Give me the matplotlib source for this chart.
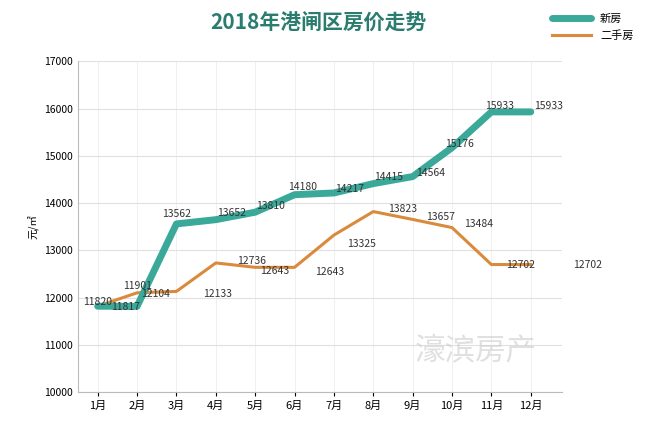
import matplotlib
matplotlib.use("Agg")
import matplotlib.pyplot as plt
from matplotlib import font_manager

names = {f.name for f in font_manager.fontManager.ttflist}
cjk = [n for n in ("Noto Sans CJK SC", "Noto Sans CJK JP", "Noto Sans CJK TC", "Noto Sans CJK KR") if n in names]
plt.rcParams["font.family"] = cjk + ["DejaVu Sans"]

months = ["1月", "2月", "3月", "4月", "5月", "6月", "7月", "8月", "9月", "10月", "11月", "12月"]
new_house = [11820, 11817, 13562, 13652, 13810, 14180, 14217, 14415, 14564, 15176, 15933, 15933]
second_hand = [11820, 12104, 12133, 12736, 12643, 12643, 13325, 13823, 13657, 13484, 12702, 12702]
new_labels = ["11820", "11817", "13562", "13652", "13810", "14180", "14217", "14415", "14564", "15176", "15933", "15933"]
old_labels = ["11901", "12104", "12133", "12736", "12643", "12643", "13325", "13823", "13657", "13484", "12702", "12702"]

fig = plt.figure(figsize=(6.5, 4.24), dpi=100)
ax = fig.add_axes([0.12, 0.075, 0.745, 0.78])
x = list(range(len(months)))
l1, = ax.plot(x, new_house, color="#3aa99a", lw=5, solid_joinstyle="round",
              solid_capstyle="round", label="新房", zorder=3)
l2, = ax.plot(x, second_hand, color="#d98a3c", lw=2.2, label="二手房", zorder=2)

kw = dict(fontsize=7.5, ha="center", va="center", color="#333333", zorder=5, clip_on=False)
# label offsets (x in months, y in value units) from each point
new_off = [(0, 80), (-0.3, -20), (0, 220), (0.4, 150), (0.4, 140), (0.2, 160), (0.4, 80),
           (0.4, 135), (0.45, 85), (0.2, 75), (0.2, 120), (0.45, 120)]
old_off = [(1.0, 430), (0.47, -20), (1.05, -50), (0.9, 40), (0.5, -70), (0.9, -90),
           (0.7, -195), (0.75, 57), (0.7, 43), (0.67, 86), (0.74, 0), (1.44, 0)]
for i, t in enumerate(new_labels):
    dx, dy = new_off[i]
    ax.text(i + dx, new_house[i] + dy, t, **kw)
for i, t in enumerate(old_labels):
    dx, dy = old_off[i]
    ax.text(i + dx, second_hand[i] + dy, t, **kw)

ax.set_xlim(-0.5, 11.8)
ax.set_ylim(10000, 17000)
ax.set_yticks(range(10000, 17001, 1000))
ax.set_xticks(x)
ax.set_xticklabels(months, fontsize=8)
ax.tick_params(axis="y", labelsize=7.5, length=0)
ax.tick_params(axis="x", length=3)
ax.grid(axis="y", color="#e0e0e0", lw=0.8)
ax.grid(axis="x", color="#eeeeee", lw=0.6)
ax.set_axisbelow(True)
for s in ("top", "right"):
    ax.spines[s].set_visible(False)
ax.spines["left"].set_color("#bbbbbb")
ax.spines["bottom"].set_color("#bbbbbb")
ax.set_ylabel("元/㎡", fontsize=7.5)

fig.text(0.49, 0.93, "2018年港闸区房价走势", fontsize=15, fontweight="bold",
         color="#2a7d6e", ha="center")
ax.text(9.6, 10700, "濠滨房产", fontsize=22, color="#cccccc", alpha=0.6, ha="center")
fig.legend(handles=[l1, l2], loc="upper right", bbox_to_anchor=(0.99, 0.99),
           frameon=False, fontsize=8, handlelength=3.5)
fig.savefig("out.png")
